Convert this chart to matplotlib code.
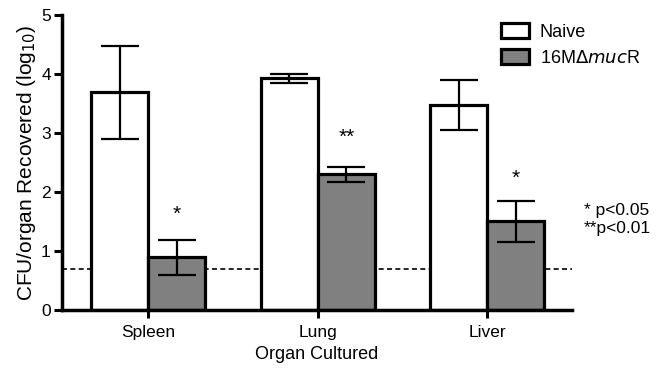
import matplotlib
matplotlib.use("Agg")
import matplotlib.pyplot as plt
import numpy as np

plt.rcParams['font.family'] = ['Liberation Sans', 'DejaVu Sans']

organs = ["Spleen", "Lung", "Liver"]
naive = [3.69, 3.93, 3.48]
naive_lo = [2.90, 3.85, 3.06]
naive_hi = [4.47, 4.00, 3.90]
mucr = [0.89, 2.30, 1.51]
mucr_lo = [0.60, 2.17, 1.16]
mucr_hi = [1.19, 2.42, 1.85]
stars = ["*", "**", "*"]
star_y = [1.62, 2.93, 2.23]
detect_limit = 0.69

fig = plt.figure(figsize=(6.66, 3.69), dpi=100)
ax = fig.add_axes([0.093, 0.160, 0.766, 0.799])

x = np.arange(len(organs))
w = 0.337
lw = 2.3

ax.axhline(detect_limit, color='black', linestyle=(0, (3, 2)), linewidth=1.2, zorder=1)

ax.bar(x - w/2, naive, width=w, color='white', edgecolor='black', linewidth=lw,
       label='Naive', zorder=2)
ax.bar(x + w/2, mucr, width=w, color='#808080', edgecolor='black', linewidth=lw,
       label='16M$\\mathit{\\Delta muc}$R', zorder=2)

n_err = [np.array(naive) - np.array(naive_lo), np.array(naive_hi) - np.array(naive)]
m_err = [np.array(mucr) - np.array(mucr_lo), np.array(mucr_hi) - np.array(mucr)]
ax.errorbar(x - w/2, naive, yerr=n_err, fmt='none', ecolor='black', elinewidth=1.6,
            capsize=13.5, capthick=1.6, zorder=3)
ax.errorbar(x + w/2, mucr, yerr=m_err, fmt='none', ecolor='black', elinewidth=1.6,
            capsize=13.5, capthick=1.6, zorder=3)

for xi, s, sy in zip(x, stars, star_y):
    ax.text(xi + w/2, sy, s, ha='center', va='center', fontsize=15)

ax.set_xlim(-0.51, 2.5)
ax.set_ylim(0, 5)
ax.set_yticks([0, 1, 2, 3, 4, 5])
ax.set_xticks(x)
ax.set_xticklabels(organs, fontsize=12.5)
ax.tick_params(axis='y', labelsize=12.5, width=2.2, length=6, pad=2)
ax.tick_params(axis='x', width=2.2, length=6, pad=5)
for sp in ['top', 'right']:
    ax.spines[sp].set_visible(False)
for sp in ['left', 'bottom']:
    ax.spines[sp].set_linewidth(2.5)

ax.set_ylabel('CFU/organ Recovered (log$_{10}$)', fontsize=15, labelpad=2)
ax.set_xlabel('Organ Cultured', fontsize=13, labelpad=4)

leg = fig.legend(*ax.get_legend_handles_labels(), loc='upper left',
                 bbox_to_anchor=(501 / 666, 1 - 23 / 369), frameon=False,
                 fontsize=13, handlelength=1.55, handleheight=0.9, handletextpad=0.6,
                 labelspacing=0.45, borderpad=0, borderaxespad=0)

fig.text(584 / 666, 1 - 219 / 369, "* p<0.05\n**p<0.01", fontsize=12.5, ha='left',
         va='center', linespacing=1.25)

fig.savefig('out.png', dpi=100)
